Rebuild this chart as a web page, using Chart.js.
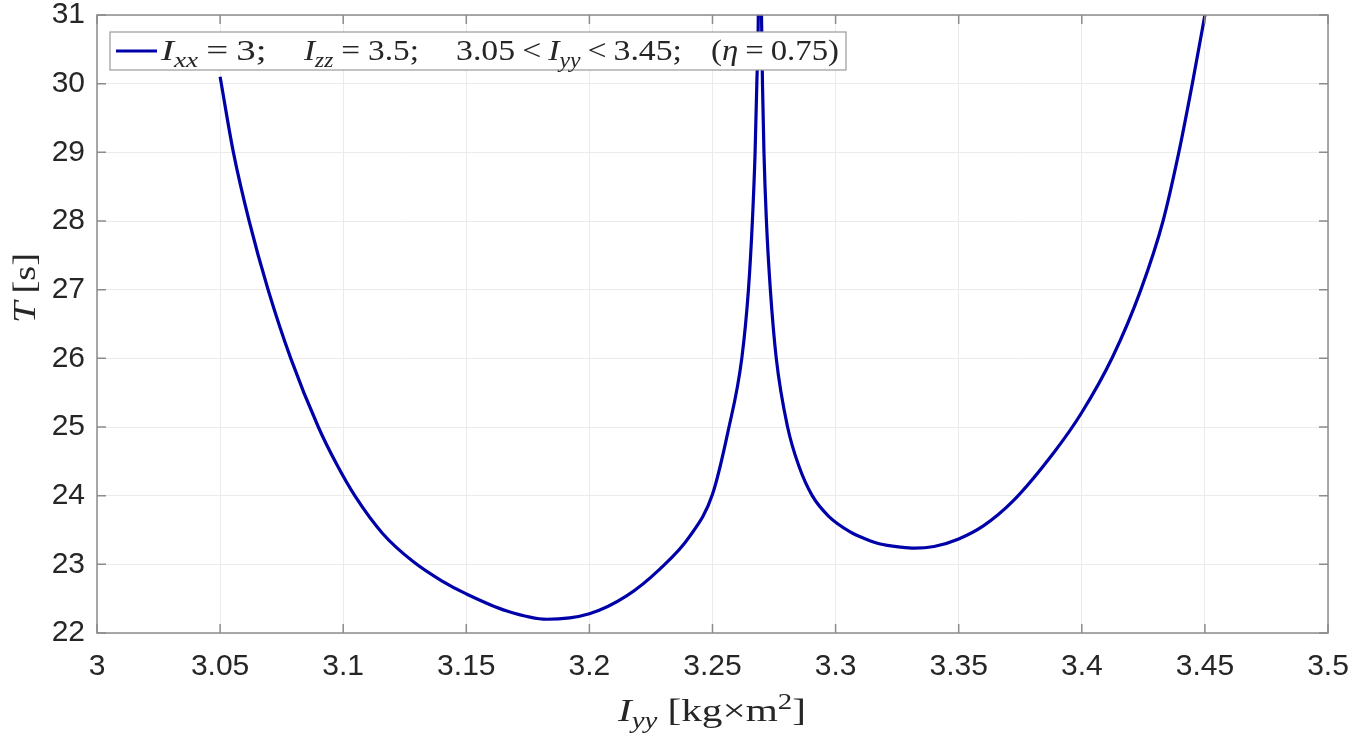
<!DOCTYPE html>
<html>
<head>
<meta charset="utf-8">
<script src="https://cdn.jsdelivr.net/npm/chart.js@4.4.1/dist/chart.umd.min.js"></script>
<style>
  body { margin: 0; background: #fff; }
  #plot { display: block; }
</style>
</head>
<body>
<canvas id="plot" width="1356" height="737"></canvas>
<script>
// values: moment of inertia Iyy and period T
const iyy = [3.05, 3.0554, 3.0618, 3.0695, 3.0787, 3.0899, 3.0973, 3.1047, 3.116, 3.1284,
  3.14, 3.15, 3.1665, 3.1827, 3.2, 3.2151, 3.2286, 3.2408, 3.25, 3.2564,
  3.2619, 3.2646, 3.2662, 3.2673, 3.268, 3.2686, 3.2691, 3.2699, 3.2703, 3.2709,
  3.2719, 3.2735, 3.2759, 3.2805, 3.2852, 3.2905, 3.2972, 3.3061, 3.3122, 3.3177,
  3.3266, 3.332, 3.34, 3.35, 3.36, 3.372, 3.3889, 3.3998, 3.4125, 3.4239,
  3.433, 3.4393, 3.4449, 3.45];
const periodT = [30.1, 29.0, 28.0, 27.0, 26.0, 25.0, 24.46, 24.0, 23.45, 23.04,
  22.76, 22.57, 22.32, 22.2, 22.28, 22.54, 22.93, 23.41, 24.02, 24.95,
  26.0, 27.0, 28.0, 29.0, 30.0, 31.0, 34.0, 31.0, 30.0, 29.0,
  28.0, 27.0, 26.0, 25.0, 24.42, 24.0, 23.7, 23.47, 23.37, 23.3,
  23.25, 23.235, 23.26, 23.37, 23.56, 23.92, 24.64, 25.2, 26.02, 26.99,
  28.0, 28.98, 30.0, 31.0];

const xTicks = [3, 3.05, 3.1, 3.15, 3.2, 3.25, 3.3, 3.35, 3.4, 3.45, 3.5];
const xTickLabels = ['3', '3.05', '3.1', '3.15', '3.2', '3.25', '3.3', '3.35', '3.4', '3.45', '3.5'];
const yTicks = [22, 23, 24, 25, 26, 27, 28, 29, 30, 31];

const lineColor = '#0000a8';
const boxColor = '#8c8c8c';
const textColor = '#262626';
const serif = '"Liberation Serif", "DejaVu Serif", serif';

function setFont(ctx, p, size) {
  const s = p[2] ? size * 0.7 : size;
  ctx.font = (p[1] ? 'italic ' : '') + s + 'px ' + serif;
}

// pieces are [text, italic, 'sub'|'sup'] or a number (a gap in px);
// the glyphs are stretched sideways so the run fills the given width
function drawGroup(ctx, pieces, x, y, size, width) {
  let natural = 0;
  let gaps = 0;
  pieces.forEach((p) => {
    if (typeof p === 'number') { gaps += p; return; }
    setFont(ctx, p, size);
    natural += ctx.measureText(p[0]).width;
  });
  const k = Math.max(0.9, Math.min(1.3, (width - gaps) / natural));
  ctx.save();
  ctx.translate(x, y);
  ctx.scale(k, 1);
  let cx = 0;
  pieces.forEach((p) => {
    if (typeof p === 'number') { cx += p / k; return; }
    setFont(ctx, p, size);
    let dy = 0;
    if (p[2] === 'sub') dy = size * 0.22;
    if (p[2] === 'sup') dy = -size * 0.38;
    ctx.fillText(p[0], cx, dy);
    cx += ctx.measureText(p[0]).width;
  });
  ctx.restore();
}

const frame = {
  id: 'frame',
  afterDatasetsDraw(chart) {
    const ctx = chart.ctx;
    const a = chart.chartArea;
    const sx = chart.scales.x;
    const sy = chart.scales.y;
    ctx.save();
    // box and inward ticks
    ctx.strokeStyle = boxColor;
    ctx.lineWidth = 1.5;
    ctx.strokeRect(a.left, a.top, a.right - a.left, a.bottom - a.top);
    ctx.beginPath();
    xTicks.forEach((v) => {
      const px = sx.getPixelForValue(v);
      ctx.moveTo(px, a.bottom); ctx.lineTo(px, a.bottom - 9);
      ctx.moveTo(px, a.top); ctx.lineTo(px, a.top + 9);
    });
    yTicks.forEach((v) => {
      const py = sy.getPixelForValue(v);
      ctx.moveTo(a.left, py); ctx.lineTo(a.left + 9, py);
      ctx.moveTo(a.right, py); ctx.lineTo(a.right - 9, py);
    });
    ctx.stroke();

    // legend
    ctx.fillStyle = '#fff';
    ctx.fillRect(110, 32, 736, 38);
    ctx.strokeStyle = '#9a9a9a';
    ctx.lineWidth = 1.2;
    ctx.strokeRect(110, 32, 736, 38);
    ctx.strokeStyle = lineColor;
    ctx.lineWidth = 3;
    ctx.beginPath();
    ctx.moveTo(116, 51); ctx.lineTo(157, 51);
    ctx.stroke();
    ctx.fillStyle = textColor;
    ctx.textBaseline = 'alphabetic';
    const ly = 60;
    const fs = 30;
    drawGroup(ctx, [['I', true], ['xx', true, 'sub'], 8, ['=', false], 8, ['3;', false]], 161, ly, fs, 113);
    drawGroup(ctx, [['I', true], ['zz', true, 'sub'], 8, ['=', false], 8, ['3.5;', false]], 304, ly, fs, 115);
    drawGroup(ctx, [['3.05', false], 7, ['<', false], 7, ['I', true], ['yy', true, 'sub'], 7, ['<', false], 7, ['3.45;', false]], 456, ly, fs, 226);
    drawGroup(ctx, [['(', false], ['\u03b7', true], 7, ['=', false], 7, ['0.75)', false]], 711, ly, fs, 128);

    // axis titles
    drawGroup(ctx, [['I', true], ['yy', true, 'sub'], 10, ['[kg', false], ['\u00d7', false], ['m', false], ['2', false, 'sup'], [']', false]], 618, 721, 32, 188);
    ctx.translate(35, 323);
    ctx.rotate(-Math.PI / 2);
    drawGroup(ctx, [['T', true], 8, ['[s]', false]], 0, 0, 32, 70);
    ctx.restore();
  }
};

new Chart(document.getElementById('plot'), {
  type: 'line',
  data: {
    datasets: [{
      data: iyy.map((v, i) => ({ x: v, y: periodT[i] })),
      borderColor: lineColor,
      borderWidth: 3.2,
      pointRadius: 0,
      fill: false,
      cubicInterpolationMode: 'monotone'
    }]
  },
  options: {
    responsive: false,
    animation: false,
    layout: { padding: { top: 15, right: 28, left: 0, bottom: 0 } },
    plugins: { legend: { display: false }, tooltip: { enabled: false } },
    scales: {
      x: {
        type: 'linear',
        min: 3,
        max: 3.5,
        afterBuildTicks: (scale) => { scale.ticks = xTicks.map((v) => ({ value: v })); },
        afterFit: (scale) => {
          scale.height = 104;
          scale.paddingLeft = 0;
          scale.paddingRight = 0;
        },
        grid: { color: '#ebebeb', lineWidth: 1, drawTicks: false },
        border: { display: false },
        ticks: {
          padding: 16,
          color: textColor,
          font: { family: '"Liberation Sans", Arial, sans-serif', size: 30 },
          maxRotation: 0,
          autoSkip: false,
          callback: (v, i) => xTickLabels[i]
        }
      },
      y: {
        min: 22,
        max: 31,
        afterBuildTicks: (scale) => { scale.ticks = yTicks.map((v) => ({ value: v })); },
        afterFit: (scale) => {
          scale.width = 97;
          scale.paddingTop = 0;
          scale.paddingBottom = 0;
        },
        grid: { color: '#ebebeb', lineWidth: 1, drawTicks: false },
        border: { display: false },
        ticks: {
          padding: 12,
          color: textColor,
          font: { family: '"Liberation Sans", Arial, sans-serif', size: 30 },
          autoSkip: false,
          callback: (v) => String(v)
        }
      }
    }
  },
  plugins: [frame]
});
</script>
</body>
</html>
